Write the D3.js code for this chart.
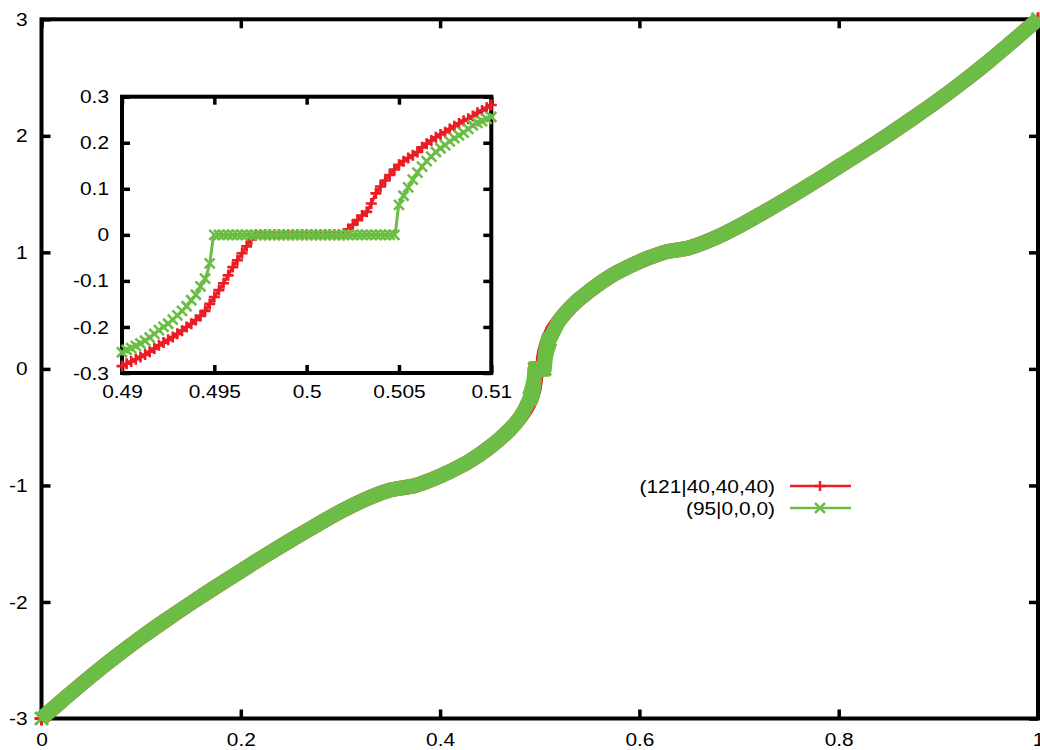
<!DOCTYPE html>
<html><head><meta charset="utf-8">
<script src="https://cdn.jsdelivr.net/npm/d3@7"></script>
<style>
body{margin:0;background:#fff;}
svg text{font-family:"Liberation Sans",Arial,Helvetica,sans-serif;font-size:19px;fill:#000;transform-box:fill-box;transform:scaleX(1.1);}
svg text.e{transform-origin:100% 50%;}
svg text.m{transform-origin:50% 50%;}
</style></head>
<body><svg id="c" width="1040" height="750"></svg>
<script>
// ---- data ----
const mainXTicks = [0, 0.2, 0.4, 0.6, 0.8, 1];
const mainXLabels = ["0", "0.2", "0.4", "0.6", "0.8", "1"];
const mainYTicks = [-3, -2, -1, 0, 1, 2, 3];
const mainYLabels = ["-3", "-2", "-1", "0", "1", "2", "3"];
const insetXTicks = [0.49, 0.495, 0.5, 0.505, 0.51];
const insetXLabels = ["0.49", "0.495", "0.5", "0.505", "0.51"];
const insetYTicks = [-0.3, -0.2, -0.1, 0, 0.1, 0.2, 0.3];
const insetYLabels = ["-0.3", "-0.2", "-0.1", "0", "0.1", "0.2", "0.3"];
const seriesNames = ["(121|40,40,40)", "(95|0,0,0)"];

// main curve outside the zoomed window (both series coincide there)
const mainXLeft = [0, 0.025, 0.05, 0.075, 0.1, 0.125, 0.15, 0.175, 0.2, 0.225, 0.25, 0.275, 0.3, 0.325, 0.35, 0.375, 0.39, 0.41, 0.43, 0.45, 0.46, 0.47, 0.48];
const mainYLeft = [-3, -2.815, -2.635, -2.465, -2.305, -2.155, -2.01, -1.87, -1.735, -1.60, -1.47, -1.345, -1.225, -1.12, -1.04, -1.0, -0.955, -0.88, -0.79, -0.67, -0.60, -0.52, -0.42];
const mainXRight = [0.52, 0.53, 0.54, 0.55, 0.57, 0.59, 0.61, 0.625, 0.65, 0.675, 0.7, 0.725, 0.75, 0.775, 0.8, 0.825, 0.85, 0.875, 0.9, 0.925, 0.95, 0.975, 1];
const mainYRight = [0.42, 0.52, 0.60, 0.67, 0.79, 0.88, 0.955, 1.0, 1.04, 1.12, 1.225, 1.345, 1.47, 1.60, 1.735, 1.87, 2.01, 2.155, 2.305, 2.465, 2.635, 2.815, 3];

// zoomed window 0.49 .. 0.51
const insetX = [0.49, 0.49025, 0.4905, 0.49075, 0.491, 0.49125, 0.4915, 0.49175, 0.492, 0.49225, 0.4925, 0.49275, 0.493, 0.49325, 0.4935, 0.49375, 0.494, 0.49425, 0.4945, 0.49475, 0.495, 0.49525, 0.4955, 0.49575, 0.496, 0.49625, 0.4965, 0.49675, 0.497, 0.49725, 0.4975, 0.49775, 0.498, 0.49825, 0.4985, 0.49875, 0.499, 0.49925, 0.4995, 0.49975, 0.5, 0.50025, 0.5005, 0.50075, 0.501, 0.50125, 0.5015, 0.50175, 0.502, 0.50225, 0.5025, 0.50275, 0.503, 0.50325, 0.5035, 0.50375, 0.504, 0.50425, 0.5045, 0.50475, 0.505, 0.50525, 0.5055, 0.50575, 0.506, 0.50625, 0.5065, 0.50675, 0.507, 0.50725, 0.5075, 0.50775, 0.508, 0.50825, 0.5085, 0.50875, 0.509, 0.50925, 0.5095, 0.50975, 0.51];
const redInset = [-0.285, -0.280, -0.275, -0.270, -0.265, -0.260, -0.254, -0.247, -0.240, -0.234, -0.228, -0.222, -0.215, -0.208, -0.200, -0.193, -0.185, -0.176, -0.165, -0.150, -0.135, -0.120, -0.105, -0.088, -0.070, -0.055, -0.040, -0.025, -0.010,
  0, 0, 0, 0, 0, 0, 0, 0, 0, 0, 0, 0, 0, 0, 0, 0, 0, 0, 0, 0,
  0.012, 0.022, 0.032, 0.042, 0.050, 0.068, 0.090, 0.105, 0.118, 0.130, 0.142, 0.152, 0.160, 0.167, 0.173, 0.180, 0.190, 0.198, 0.205, 0.212, 0.218, 0.223, 0.230, 0.236, 0.242, 0.248, 0.252, 0.258, 0.265, 0.270, 0.276, 0.282];
const greenInset = [-0.255, -0.250, -0.246, -0.241, -0.236, -0.230, -0.223, -0.215, -0.207, -0.200, -0.193, -0.184, -0.175, -0.165, -0.155, -0.142, -0.130, -0.112, -0.095, -0.062,
  0, 0, 0, 0, 0, 0, 0, 0, 0, 0, 0, 0, 0, 0, 0, 0, 0, 0, 0, 0,
  0, 0, 0, 0, 0, 0, 0, 0, 0, 0, 0, 0, 0, 0, 0, 0, 0, 0, 0, 0,
  0.065, 0.085, 0.103, 0.120, 0.135, 0.148, 0.160, 0.170, 0.180, 0.188, 0.195, 0.203, 0.210, 0.216, 0.222, 0.230, 0.238, 0.243, 0.247, 0.252, 0.256];

const RED = "#ec1c24", GREEN = "#6cbd45";

// ---- drawing ----
const svg = d3.select("#c");
svg.append("rect").attr("width", 1040).attr("height", 750).attr("fill", "#fff");

const x = d3.scaleLinear().domain([0, 1]).range([41.5, 1038]);
const y = d3.scaleLinear().domain([-3, 3]).range([718.5, 19.3]);
const ix = d3.scaleLinear().domain([0.49, 0.51]).range([122, 491.3]);
const iy = d3.scaleLinear().domain([-0.3, 0.3]).range([373, 96.7]);

function frame(xs, ys, xt, xl, yt, yl, tick, padX, padY) {
  const g = svg.append("g");
  const [x0, x1] = xs.range(), [y0, y1] = ys.range();
  const bottom = g.append("g").attr("transform", `translate(0,${y0})`)
    .call(d3.axisBottom(xs).tickValues(xt).tickFormat((d, i) => xl[i]).tickSize(-tick).tickPadding(padX));
  g.append("g").attr("transform", `translate(0,${y1})`)
    .call(d3.axisTop(xs).tickValues(xt).tickFormat("").tickSize(-tick));
  const left = g.append("g").attr("transform", `translate(${x0},0)`)
    .call(d3.axisLeft(ys).tickValues(yt).tickFormat((d, i) => yl[i]).tickSize(-tick).tickPadding(padY));
  g.append("g").attr("transform", `translate(${x1},0)`)
    .call(d3.axisRight(ys).tickValues(yt).tickFormat("").tickSize(-tick));
  g.selectAll(".domain").remove();
  g.selectAll(".tick line").attr("stroke", "#000").attr("stroke-width", 3.5);
  g.selectAll("g").attr("font-family", null).attr("font-size", null);
  bottom.selectAll("text").attr("class", "m");
  left.selectAll("text").attr("class", "e");
  g.append("rect").attr("x", x0).attr("y", y1).attr("width", x1 - x0).attr("height", y0 - y1)
    .attr("fill", "none").attr("stroke", "#000").attr("stroke-width", 4);
  return g;
}

frame(x, y, mainXTicks, mainXLabels, mainYTicks, mainYLabels, 9, 14, 14);
frame(ix, iy, insetXTicks, insetXLabels, insetYTicks, insetYLabels, 8, 12, 13);

const plusPath = s => `M${-s},0H${s}M0,${-s}V${s}`;
const crossPath = s => `M${-s},${-s}L${s},${s}M${-s},${s}L${s},${-s}`;

function series(xs, ys, pts, color, marker, lw, ms, mw, markerPts) {
  const line = d3.line().x(d => xs(d[0])).y(d => ys(d[1])).curve(d3.curveMonotoneX);
  const g = svg.append("g");
  g.append("path").attr("d", line(pts)).attr("fill", "none").attr("stroke", color)
    .attr("stroke-width", lw).attr("stroke-linejoin", "round");
  g.selectAll("path.mk").data(markerPts || pts).join("path").attr("class", "mk")
    .attr("transform", d => `translate(${xs(d[0])},${ys(d[1])})`)
    .attr("d", marker(ms)).attr("fill", "none").attr("stroke", color).attr("stroke-width", mw);
}

const leftPts = mainXLeft.map((v, i) => [v, mainYLeft[i]]);
const rightPts = mainXRight.map((v, i) => [v, mainYRight[i]]);
const redPts = insetX.map((v, i) => [v, redInset[i]]);
const greenPts = insetX.map((v, i) => [v, greenInset[i]]);
const ends = [leftPts[0], rightPts[rightPts.length - 1]];

// main plot
series(x, y, leftPts.concat(redPts, rightPts), RED, plusPath, 15, 7, 3, ends.concat(redPts));
series(x, y, leftPts.concat(greenPts, rightPts), GREEN, crossPath, 15, 6.5, 3, ends.concat(greenPts));

// inset
series(ix, iy, redPts, RED, plusPath, 3, 5.5, 2.6);
series(ix, iy, greenPts, GREEN, crossPath, 3, 5, 2.6);

// legend
const legY = [486, 508];
const legColors = [RED, GREEN];
const legMarkers = [plusPath, crossPath];
const lg = svg.append("g");
seriesNames.forEach((n, i) => {
  lg.append("text").attr("class", "e").attr("x", 775).attr("y", legY[i]).attr("dy", "0.35em")
    .attr("text-anchor", "end").text(n);
  lg.append("line").attr("x1", 790).attr("x2", 851).attr("y1", legY[i]).attr("y2", legY[i])
    .attr("stroke", legColors[i]).attr("stroke-width", 2.5);
  lg.append("path").attr("transform", `translate(820,${legY[i]})`).attr("d", legMarkers[i](5))
    .attr("fill", "none").attr("stroke", legColors[i]).attr("stroke-width", 2.5);
});
</script></body></html>
